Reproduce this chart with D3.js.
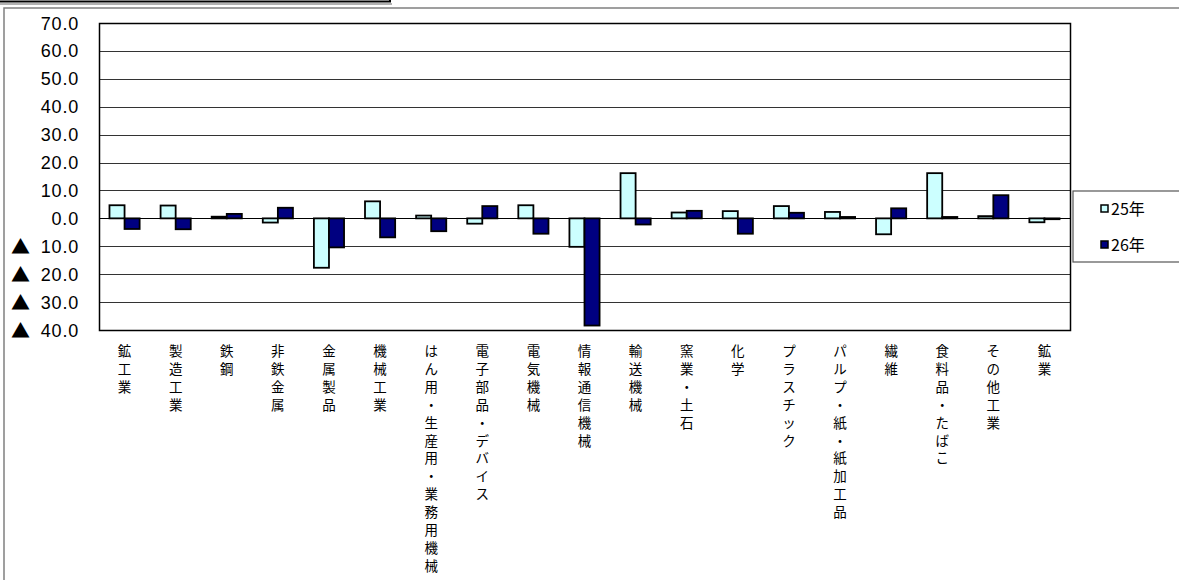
<!DOCTYPE html>
<html><head><meta charset="utf-8">
<script src="https://cdn.jsdelivr.net/npm/d3@7"></script>
<style>
html,body{margin:0;padding:0;background:#fff;}
svg{display:block;}
</style>
</head><body>
<svg id="chart" width="1179" height="580"></svg>
<script>
const categories = ["鉱工業","製造工業","鉄鋼","非鉄金属","金属製品","機械工業","はん用・生産用・業務用機械","電子部品・デバイス","電気機械","情報通信機械","輸送機械","窯業・土石","化学","プラスチック","パルプ・紙・紙加工品","繊維","食料品・たばこ","その他工業","鉱業"];
const seriesNames = ["25年","26年"];
const values25 = [4.7,4.6,0.6,-1.5,-17.7,6.1,1.0,-1.9,4.7,-10.2,16.2,2.1,2.6,4.4,2.3,-5.7,16.2,0.8,-1.4];
const values26 = [-3.8,-3.9,1.6,3.8,-10.4,-6.8,-4.6,4.4,-5.5,-38.4,-2.2,2.7,-5.5,2.0,0.5,3.6,0.5,8.3,-0.3];
const yTicks = [70,60,50,40,30,20,10,0,-10,-20,-30,-40];
const colors = ["#CCFFFF","#000080"];

const svg = d3.select("#chart");
const plot = {left:99, right:1070, top:23, bottom:330};

// outer frame
svg.append("rect").attr("x",4).attr("y",8).attr("width",1200).attr("height",600)
  .attr("fill","none").attr("stroke","#808080").attr("stroke-width",1.5);
// top-left text box remnant
svg.append("line").attr("x1",0).attr("x2",392).attr("y1",4).attr("y2",4).attr("stroke","#999").attr("stroke-width",1.5);
svg.append("rect").attr("x",-5).attr("y",-20).attr("width",395).attr("height",21.5)
  .attr("fill","none").attr("stroke","#000").attr("stroke-width",2);

const y = d3.scaleLinear().domain([-40,70]).range([plot.bottom, plot.top]);
const x0 = d3.scaleBand().domain(categories).range([plot.left, plot.right]).paddingInner(0.41).paddingOuter(0.205);
const x1 = d3.scaleBand().domain(seriesNames).range([0, x0.bandwidth()]);

// gridlines
svg.append("g").selectAll("line").data(yTicks).join("line")
  .attr("x1",plot.left).attr("x2",plot.right)
  .attr("y1",d=>Math.round(y(d))+0.5).attr("y2",d=>Math.round(y(d))+0.5)
  .attr("stroke",d=>d===0?"#000":"#333").attr("stroke-width",1);

// y labels
const yl = svg.append("g");
yl.selectAll("text.num").data(yTicks).join("text").attr("class","num")
  .attr("x",79).attr("y",d=>y(d)+6.5).attr("text-anchor","end")
  .attr("font-family","'Liberation Sans', Arial, sans-serif").attr("font-size",18)
  .attr("letter-spacing",0.8).attr("fill","#000").text(d=>Math.abs(d).toFixed(1));
yl.selectAll("text.tri").data(yTicks.filter(d=>d<0)).join("text").attr("class","tri")
  .attr("x",11).attr("y",d=>y(d)+7.5).attr("text-anchor","start")
  .attr("font-family","'Noto Sans CJK JP', sans-serif").attr("font-size",19)
  .attr("fill","#000").text("▲");

// bars
const data = categories.map((c,i)=>({cat:c, vals:[values25[i], values26[i]]}));
const groups = svg.append("g").selectAll("g").data(data).join("g")
  .attr("transform",d=>`translate(${x0(d.cat)},0)`);
groups.selectAll("rect").data(d=>d.vals.map((v,j)=>({v, s:seriesNames[j], j}))).join("rect")
  .attr("x",d=>x1(d.s)).attr("width",x1.bandwidth())
  .attr("y",d=>Math.min(y(d.v),y(0))).attr("height",d=>Math.max(0.5,Math.abs(y(d.v)-y(0))))
  .attr("fill",d=>colors[d.j]).attr("stroke","#000").attr("stroke-width",1.8);

// plot border
svg.append("rect").attr("x",plot.left+0.5).attr("y",plot.top+0.5)
  .attr("width",plot.right-plot.left).attr("height",plot.bottom-plot.top)
  .attr("fill","none").attr("stroke","#000").attr("stroke-width",1.5);

// x labels (vertical)
const xl = svg.append("g").attr("font-family","'Noto Sans CJK JP', sans-serif").attr("font-size",13.5).attr("fill","#000");
categories.forEach(c=>{
  const cx = x0(c) + x0.bandwidth()/2;
  Array.from(c).forEach((ch,k)=>{
    xl.append("text").attr("x",cx).attr("y",356 + k*17.9).attr("text-anchor","middle").text(ch);
  });
});

// legend
svg.append("rect").attr("x",1073).attr("y",191).attr("width",120).attr("height",71)
  .attr("fill","#fff").attr("stroke","#555").attr("stroke-width",1.2);
const lg = svg.append("g").selectAll("g").data(seriesNames).join("g")
  .attr("transform",(d,i)=>`translate(1101,${209 + i*36})`);
lg.append("rect").attr("x",0).attr("y",-4).attr("width",7).attr("height",7)
  .attr("fill",(d,i)=>colors[i]).attr("stroke","#000").attr("stroke-width",1.5);
lg.append("text").attr("x",10).attr("y",6).attr("font-family","'Noto Sans CJK JP', sans-serif")
  .attr("font-size",16).attr("fill","#000").text(d=>d);
</script>
</body></html>
